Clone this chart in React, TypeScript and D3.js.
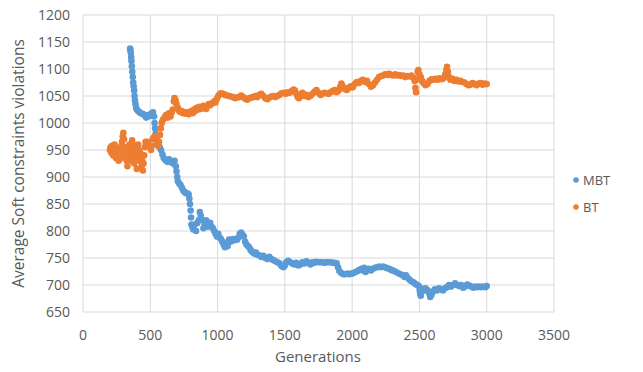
import * as d3 from 'd3'

// generation, average soft constraint violations
const mbt: [number, number][] = [
  [350, 1138], [352, 1135], [355, 1130], [358, 1122], [360, 1115], [363, 1105], [366, 1095], [370, 1085],
  [373, 1075], [376, 1068], [380, 1060], [383, 1050], [386, 1042], [390, 1035], [395, 1028], [400, 1025],
  [410, 1022], [420, 1020], [430, 1018], [440, 1017], [450, 1016], [460, 1014], [470, 1010], [480, 1012],
  [490, 1015], [500, 1013], [510, 1018], [520, 1020], [528, 1012], [532, 1000], [536, 990], [540, 980],
  [545, 970], [550, 960], [560, 958], [570, 955], [580, 950], [590, 942], [600, 935], [610, 932],
  [620, 930], [630, 928], [640, 933], [650, 930], [660, 927], [670, 925], [680, 930], [690, 920],
  [695, 910], [700, 900], [705, 892], [715, 888], [725, 885], [735, 880], [745, 875], [755, 872],
  [765, 870], [775, 870], [785, 868], [790, 860], [795, 850], [800, 838], [803, 825], [806, 812],
  [812, 808], [820, 803], [830, 812], [840, 800], [850, 815], [860, 820], [868, 835], [875, 828],
  [885, 820], [895, 805], [905, 812], [915, 820], [925, 808], [935, 812], [945, 815], [955, 808],
  [965, 805], [975, 800], [985, 795], [995, 790], [1005, 795], [1015, 788], [1025, 785], [1035, 780],
  [1045, 775], [1055, 770], [1065, 778], [1075, 772], [1085, 784], [1095, 780], [1105, 782], [1115, 785],
  [1125, 783], [1135, 785], [1145, 784], [1155, 788], [1165, 795], [1175, 797], [1185, 793], [1195, 790],
  [1205, 780], [1215, 775], [1225, 772], [1235, 770], [1245, 765], [1255, 762], [1265, 760], [1275, 758],
  [1285, 760], [1295, 756], [1310, 755], [1325, 752], [1340, 754], [1355, 750], [1370, 748], [1385, 752],
  [1400, 748], [1415, 746], [1430, 744], [1445, 742], [1460, 740], [1475, 735], [1490, 733], [1500, 736],
  [1510, 742], [1525, 745], [1540, 742], [1555, 740], [1570, 738], [1585, 741], [1600, 736], [1615, 738],
  [1630, 742], [1645, 740], [1660, 744], [1675, 741], [1690, 738], [1705, 742], [1720, 741], [1735, 743],
  [1750, 742], [1765, 742], [1780, 742], [1795, 741], [1810, 742], [1825, 742], [1840, 742], [1855, 741],
  [1870, 741], [1885, 740], [1895, 733], [1905, 726], [1920, 722], [1935, 720], [1950, 720], [1965, 721],
  [1980, 720], [1995, 721], [2010, 722], [2025, 724], [2040, 726], [2055, 728], [2070, 730], [2080, 727],
  [2090, 732], [2100, 724], [2110, 728], [2125, 730], [2140, 727], [2155, 730], [2170, 732], [2185, 733],
  [2200, 734], [2215, 733], [2230, 734], [2245, 733], [2260, 731], [2275, 730], [2290, 728], [2300, 727],
  [2320, 725], [2340, 722], [2360, 720], [2375, 718], [2390, 715], [2400, 718], [2410, 714], [2425, 710],
  [2440, 707], [2455, 705], [2470, 702], [2485, 700], [2495, 698], [2502, 690], [2506, 684], [2510, 680],
  [2516, 688], [2525, 693], [2535, 690], [2545, 694], [2560, 690], [2572, 685], [2580, 678], [2590, 682],
  [2600, 688], [2615, 692], [2630, 690], [2645, 694], [2660, 692], [2675, 690], [2690, 694], [2705, 696],
  [2720, 700], [2735, 697], [2750, 700], [2765, 703], [2780, 700], [2795, 698], [2810, 700], [2825, 695],
  [2840, 697], [2855, 701], [2870, 699], [2885, 697], [2900, 695], [2915, 697], [2930, 696], [2945, 697],
  [2960, 696], [2975, 697], [2990, 696], [3000, 698],
]

const bt: [number, number][] = [
  [200, 950], [205, 955], [210, 945], [215, 958], [220, 948], [225, 940], [230, 952], [235, 960],
  [240, 945], [245, 935], [250, 942], [255, 950], [260, 938], [265, 930], [270, 945], [275, 955],
  [280, 948], [285, 935], [290, 965], [295, 975], [300, 982], [305, 970], [310, 955], [315, 940],
  [320, 945], [325, 930], [330, 920], [335, 935], [340, 950], [345, 960], [350, 945], [355, 930],
  [360, 950], [365, 968], [370, 960], [375, 940], [380, 925], [385, 945], [390, 955], [395, 935],
  [400, 915], [405, 940], [410, 960], [415, 950], [420, 930], [425, 945], [430, 935], [435, 920],
  [440, 930], [445, 912], [450, 925], [455, 940], [460, 955], [465, 965], [470, 960], [475, 962],
  [480, 965], [490, 958], [500, 955], [505, 950], [510, 958], [518, 970], [525, 973], [535, 975],
  [545, 970], [552, 965], [558, 958], [565, 965], [572, 978], [578, 990], [585, 1000], [592, 1005],
  [600, 1008], [610, 1012], [620, 1015], [630, 1010], [640, 1018], [650, 1012], [660, 1020], [668, 1025],
  [675, 1040], [680, 1046], [688, 1042], [695, 1035], [705, 1028], [715, 1022], [725, 1020], [735, 1022],
  [745, 1018], [755, 1020], [765, 1017], [775, 1020], [785, 1016], [795, 1018], [805, 1022], [815, 1018],
  [825, 1025], [835, 1022], [845, 1028], [855, 1025], [865, 1030], [875, 1026], [885, 1028], [895, 1032],
  [905, 1030], [915, 1026], [925, 1032], [935, 1035], [945, 1033], [955, 1036], [965, 1037], [975, 1040],
  [985, 1038], [995, 1045], [1005, 1050], [1015, 1053], [1025, 1055], [1040, 1054], [1055, 1052], [1070, 1051],
  [1085, 1050], [1100, 1049], [1115, 1048], [1130, 1046], [1145, 1047], [1160, 1048], [1175, 1051], [1190, 1048],
  [1205, 1045], [1220, 1043], [1235, 1046], [1250, 1047], [1265, 1048], [1280, 1050], [1295, 1048], [1310, 1052],
  [1325, 1054], [1340, 1050], [1355, 1046], [1370, 1044], [1385, 1047], [1400, 1049], [1415, 1050], [1430, 1048],
  [1445, 1050], [1460, 1052], [1475, 1055], [1490, 1056], [1505, 1054], [1520, 1057], [1535, 1056], [1550, 1059],
  [1565, 1062], [1575, 1060], [1585, 1054], [1595, 1048], [1605, 1046], [1615, 1052], [1630, 1056], [1645, 1050],
  [1660, 1052], [1675, 1048], [1690, 1050], [1705, 1054], [1720, 1058], [1735, 1061], [1750, 1056], [1765, 1052],
  [1780, 1054], [1795, 1056], [1810, 1055], [1825, 1054], [1840, 1057], [1855, 1059], [1870, 1061], [1885, 1057],
  [1900, 1060], [1910, 1066], [1920, 1073], [1930, 1068], [1945, 1063], [1960, 1061], [1975, 1065], [1990, 1068],
  [2005, 1066], [2020, 1072], [2035, 1076], [2050, 1074], [2065, 1078], [2080, 1080], [2095, 1076], [2110, 1078],
  [2125, 1072], [2140, 1067], [2155, 1070], [2170, 1075], [2185, 1080], [2200, 1085], [2215, 1087], [2230, 1088],
  [2245, 1090], [2260, 1089], [2275, 1091], [2290, 1089], [2305, 1088], [2320, 1090], [2335, 1088], [2350, 1089],
  [2365, 1087], [2380, 1088], [2395, 1085], [2410, 1087], [2425, 1086], [2440, 1088], [2455, 1084], [2465, 1078],
  [2470, 1065], [2475, 1057], [2480, 1080], [2487, 1095], [2492, 1098], [2500, 1090], [2510, 1085], [2520, 1078],
  [2530, 1074], [2545, 1070], [2560, 1072], [2575, 1078], [2590, 1081], [2605, 1080], [2620, 1082], [2635, 1080],
  [2650, 1083], [2665, 1081], [2680, 1083], [2692, 1090], [2700, 1098], [2705, 1104], [2712, 1095], [2720, 1085],
  [2730, 1080], [2745, 1082], [2760, 1078], [2775, 1080], [2790, 1077], [2805, 1078], [2820, 1076], [2835, 1075],
  [2850, 1072], [2865, 1070], [2880, 1071], [2895, 1074], [2910, 1072], [2925, 1070], [2940, 1073], [2955, 1074],
  [2970, 1071], [2985, 1073], [3000, 1072],
]

const xTicks = [0, 500, 1000, 1500, 2000, 2500, 3000, 3500]
const yTicks = [650, 700, 750, 800, 850, 900, 950, 1000, 1050, 1100, 1150, 1200]
const series = [
  { name: 'MBT', color: '#5B9BD5', data: mbt },
  { name: 'BT', color: '#ED7D31', data: bt },
]

const W = 643, H = 372
const m = { l: 83, r: 89, t: 15, b: 60 }
const FONT = '"Open Sans", sans-serif'
const TXT = '#595959'
const R = 3.3

export default function App() {
  const x = d3.scaleLinear().domain([0, 3500]).range([m.l, W - m.r])
  const y = d3.scaleLinear().domain([650, 1200]).range([H - m.b, m.t])

  return (
    <svg width={W} height={H} style={{ position: 'absolute', left: 0, top: 0, background: '#fff' }}
      fontFamily={FONT}>
      {/* grid */}
      {yTicks.map(t => (
        <line key={'gy' + t} x1={m.l} x2={W - m.r} y1={y(t)} y2={y(t)} stroke="#D9D9D9" strokeWidth={1}/>
      ))}
      {xTicks.map(t => (
        <line key={'gx' + t} x1={x(t)} x2={x(t)} y1={m.t} y2={H - m.b} stroke="#D9D9D9" strokeWidth={1}/>
      ))}

      {/* tick labels */}
      {yTicks.map(t => (
        <text key={'ly' + t} x={m.l - 13} y={y(t) + 5} textAnchor="end" fontSize={14} fill={TXT}>{t}</text>
      ))}
      {xTicks.map(t => (
        <text key={'lx' + t} x={x(t)} y={340} textAnchor="middle" fontSize={14} fill={TXT}>{t}</text>
      ))}

      {/* points */}
      {series.map(s => (
        <g key={s.name} fill={s.color}>
          {s.data.map(([g, v], i) => <circle key={i} cx={x(g)} cy={y(v)} r={R}/>)}
        </g>
      ))}

      {/* axis titles */}
      <text x={318} y={362} textAnchor="middle" fontSize={15} fill={TXT}>Generations</text>
      <text transform={`translate(24,${(m.t + H - m.b) / 2}) rotate(-90)`} textAnchor="middle"
        fontSize={15.5} fill={TXT}>Average Soft constraints violations</text>

      {/* legend */}
      {series.map((s, i) => (
        <g key={'lg' + s.name} transform={`translate(576,${180 + i * 27})`}>
          <circle cx={0} cy={0} r={2.8} fill={s.color}/>
          <text x={7} y={5} fontSize={13} fill={TXT}>{s.name}</text>
        </g>
      ))}
    </svg>
  )
}
